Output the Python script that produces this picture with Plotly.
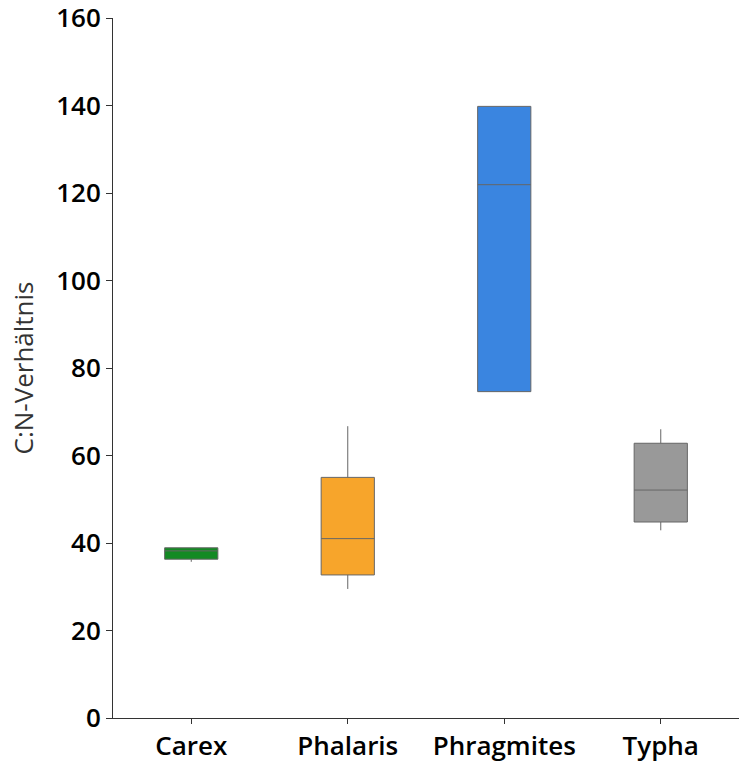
import plotly.graph_objects as go

# C:N ratio summary statistics per species
species = ["Carex", "Phalaris", "Phragmites", "Typha"]
lower_fence = [35.7, 29.5, 74.6, 42.9]
q1 = [36.3, 32.7, 74.6, 44.8]
median = [38.2, 41.0, 121.9, 52.1]
q3 = [38.9, 55.0, 139.8, 62.8]
upper_fence = [38.9, 66.7, 139.8, 66.0]
colors = ["#138A23", "#F7A52B", "#3A85E0", "#999999"]

y_ticks = [0, 20, 40, 60, 80, 100, 120, 140, 160]

fig = go.Figure()
for i, name in enumerate(species):
    fig.add_trace(go.Box(
        x=[name],
        q1=[q1[i]], median=[median[i]], q3=[q3[i]],
        lowerfence=[lower_fence[i]], upperfence=[upper_fence[i]],
        fillcolor=colors[i],
        line=dict(color="#666666", width=1),
        whiskerwidth=0,
        width=0.34,
        name=name,
        showlegend=False,
        hoverinfo="skip",
    ))

FONT = "Open Sans, Noto Sans, sans-serif"
tick_font = dict(family=FONT, size=26, color="#000000", weight=600)

fig.update_layout(
    width=739, height=762,
    margin=dict(l=113, r=0, t=18, b=44),
    paper_bgcolor="white", plot_bgcolor="white",
    boxmode="overlay",
    font=dict(family=FONT),
    xaxis=dict(
        type="category", categoryarray=species, categoryorder="array",
        range=[-0.5, 3.5], automargin=False,
        showline=True, linecolor="#333333", linewidth=1,
        ticks="outside", ticklen=5, tickcolor="#333333",
        showgrid=False, zeroline=False,
        tickfont=tick_font, ticklabeloverflow="allow",
    ),
    yaxis=dict(
        range=[0, 160], tickvals=y_ticks, automargin=False,
        showline=True, linecolor="#333333", linewidth=1,
        ticks="outside", ticklen=6, tickcolor="#333333",
        showgrid=False, zeroline=False,
        tickfont=tick_font, ticklabeloverflow="allow",
        title=dict(text="C:N-Verhältnis",
                   font=dict(family=FONT, size=26, color="#333333"),
                   standoff=15),
    ),
    # overlay axes supply the inward half of the crossing tick marks
    xaxis2=dict(
        type="category", categoryarray=species, categoryorder="array",
        range=[-0.5, 3.5], overlaying="x", anchor="y", automargin=False,
        showline=False, ticks="inside", ticklen=5, tickcolor="#333333",
        showticklabels=False, showgrid=False, zeroline=False,
        tickvals=species,
    ),
    yaxis2=dict(
        range=[0, 160], tickvals=y_ticks, overlaying="y", anchor="x", side="left",
        automargin=False,
        showline=False, ticks="inside", ticklen=6, tickcolor="#333333",
        showticklabels=False, showgrid=False, zeroline=False,
    ),
)

fig.write_html("out.html")
